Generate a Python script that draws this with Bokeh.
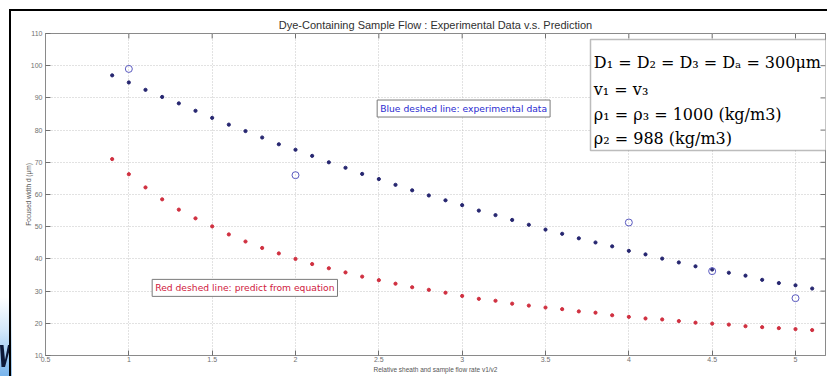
from bokeh.plotting import figure
from bokeh.models import (Range1d, Label, BoxAnnotation, ColumnDataSource, FixedTicker)
from bokeh.layouts import column
from bokeh.core.properties import value
from bokeh.embed import file_html
from bokeh.resources import INLINE

# ---------------- data ----------------
x_vals = [0.9, 1.0, 1.1, 1.2, 1.3, 1.4, 1.5, 1.6, 1.7, 1.8, 1.9, 2.0,
          2.1, 2.2, 2.3, 2.4, 2.5, 2.6, 2.7, 2.8, 2.9, 3.0,
          3.1, 3.2, 3.3, 3.4, 3.5, 3.6, 3.7, 3.8, 3.9, 4.0,
          4.1, 4.2, 4.3, 4.4, 4.5, 4.6, 4.7, 4.8, 4.9, 5.0, 5.1]
blue_vals = [97.0, 94.8, 92.5, 90.3, 88.3, 86.0, 83.8, 81.7, 79.7, 77.7, 75.6, 73.9,
             72.0, 70.0, 68.3, 66.4, 64.8, 63.0, 61.3, 59.7, 58.2, 56.7,
             55.0, 53.6, 52.1, 50.6, 49.1, 47.8, 46.4, 45.1, 43.9, 42.5,
             41.4, 40.1, 38.9, 37.7, 36.7, 35.7, 34.8, 33.5, 32.5, 31.8, 30.8]
red_vals = [71.0, 66.3, 62.2, 58.5, 55.3, 52.6, 50.1, 47.6, 45.4, 43.4, 41.7, 40.0,
            38.4, 37.1, 35.8, 34.5, 33.4, 32.3, 31.2, 30.4, 29.5, 28.5,
            27.6, 27.0, 26.1, 25.5, 24.9, 24.4, 23.7, 23.3, 22.5, 22.0,
            21.5, 21.2, 20.7, 20.2, 19.9, 19.6, 19.1, 18.8, 18.5, 18.2, 17.9]
exp_x = [1.0, 2.0, 4.0, 4.5, 5.0]
exp_y = [99.0, 66.0, 51.3, 36.2, 27.8]

x_ticks = [0.5, 1, 1.5, 2, 2.5, 3, 3.5, 4, 4.5, 5]
y_ticks = [10, 20, 30, 40, 50, 60, 70, 80, 90, 100, 110]

title_text = "Dye-Containing Sample Flow : Experimental Data v.s. Prediction"
x_label = "Relative sheath and sample flow rate v1/v2"
y_label = "Focused width d (\u03bcm)"
blue_note = "Blue deshed line: experimental data"
red_note = "Red deshed line: predict from equation"
eq_lines = ["D\u2081 = D\u2082 = D\u2083 = D\u2090 = 300\u03bcm",
            "v\u2081 = v\u2083",
            "\u03c1\u2081 = \u03c1\u2083 = 1000 (kg/m3)",
            "\u03c1\u2082 = 988 (kg/m3)"]
eq_y = [101.0, 92.6, 84.8, 77.4]

X0, X1, Y0, Y1 = 0.5, 5.18, 10, 110

# ---------------- figure ----------------
p = figure(width=816, height=365, output_backend="svg", toolbar_location=None,
           x_range=Range1d(X0, X1), y_range=Range1d(Y0, Y1),
           min_border_left=34, min_border_right=2, min_border_top=22, min_border_bottom=21,
           background_fill_color="white", border_fill_color="white",
           margin=(11, 0, 0, 11), styles={"outline": "2px solid black"})

p.title.text = title_text
p.title.align = "center"
p.title.text_font = "Liberation Sans"
p.title.text_font_size = "11px"
p.title.text_font_style = "normal"
p.title.text_color = "#303030"
p.title.standoff = 6

p.outline_line_color = "#8a8a8a"
p.outline_line_width = 1

for ax in (p.xaxis[0], p.yaxis[0]):
    ax.axis_line_color = "#8a8a8a"
    ax.major_tick_in = 5
    ax.major_tick_out = 0
    ax.major_tick_line_color = "#707070"
    ax.minor_tick_line_color = None
    ax.major_label_text_font = "Liberation Sans"
    ax.major_label_text_font_size = "7px"
    ax.major_label_text_color = "#707070"
    ax.axis_label_text_font = "Liberation Sans"
    ax.axis_label_text_font_size = "6.5px"
    ax.axis_label_text_font_style = "normal"
    ax.axis_label_text_color = "#555555"

p.xaxis[0].ticker = FixedTicker(ticks=x_ticks)
p.yaxis[0].ticker = FixedTicker(ticks=y_ticks)
p.xaxis[0].major_label_standoff = 1
p.yaxis[0].major_label_standoff = 3
p.xaxis[0].axis_label = x_label
p.yaxis[0].axis_label = y_label
p.xaxis[0].axis_label_standoff = 1
p.yaxis[0].axis_label_standoff = -4

p.xgrid.ticker = FixedTicker(ticks=x_ticks)
p.ygrid.ticker = FixedTicker(ticks=y_ticks)
for g in (p.xgrid[0], p.ygrid[0]):
    g.grid_line_color = "#c4c4c4"
    g.grid_line_dash = "1 2"
    g.grid_line_width = 1

# top and right inward ticks (MATLAB box style), at the tick values
tick_len_x = 5 * (X1 - X0) / 780.0
tick_len_y = 5 * (Y1 - Y0) / 322.0
p.segment(x0=x_ticks, x1=x_ticks, y0=[Y1] * len(x_ticks), y1=[Y1 - tick_len_y] * len(x_ticks),
          line_color="#707070", line_width=1)
p.segment(x0=[X1] * len(y_ticks), x1=[X1 - tick_len_x] * len(y_ticks), y0=y_ticks, y1=y_ticks,
          line_color="#707070", line_width=1)

# ---------------- data marks ----------------
src = ColumnDataSource(dict(x=x_vals, blue=blue_vals, red=red_vals))
p.scatter("x", "blue", source=src, size=3.2, color="#262670", marker="circle")
p.scatter("x", "red", source=src, size=3.2, color="#d03040", marker="circle")
p.scatter(exp_x, exp_y, size=7, marker="circle", fill_color=None,
          line_color="#5a5ac0", line_width=1)

# ---------------- notes ----------------
p.add_layout(Label(x=2.49, y=86.7, text=blue_note, text_font="DejaVu Sans",
                   text_font_size="9.2px", text_color="#2a2ad0", text_baseline="middle",
                   border_line_color="#7a7a7a", border_line_width=1,
                   background_fill_color="white", padding=3))
p.add_layout(Label(x=1.14, y=31.0, text=red_note, text_font="DejaVu Sans",
                   text_font_size="9.2px", text_color="#d02040", text_baseline="middle",
                   border_line_color="#7a7a7a", border_line_width=1,
                   background_fill_color="white", padding=3))

# equation box
p.add_layout(BoxAnnotation(left=3.77, right=5.6, top=108.1, bottom=73.7,
                           fill_color="white", fill_alpha=1.0,
                           line_color="#222222", line_width=1.5, level="underlay"))
eq_src = ColumnDataSource(dict(x=[3.79] * len(eq_lines), y=eq_y, t=eq_lines))
p.text("x", "y", text="t", source=eq_src, text_font=value("DejaVu Serif"),
       text_font_size="16px", text_color="#000000", text_baseline="middle")

mark_svg = ("url(\"data:image/svg+xml;utf8,<svg xmlns='http://www.w3.org/2000/svg' "
            "width='12' height='376'><path d='M0 345 L3.5 345 L5 360 L8 345 L11 345 "
            "L5 367 L1.5 367 Z' fill='%230c1838'/></svg>\") no-repeat 0 0")
root = column(p, width=827, height=376,
              styles={"background": mark_svg + ", linear-gradient(to bottom, #ffffff 0%, "
                                    "#ffffff 79%, #d2e7fa 88%, #78b4ec 100%)"})

open("out.html", "w").write(file_html(root, INLINE))
